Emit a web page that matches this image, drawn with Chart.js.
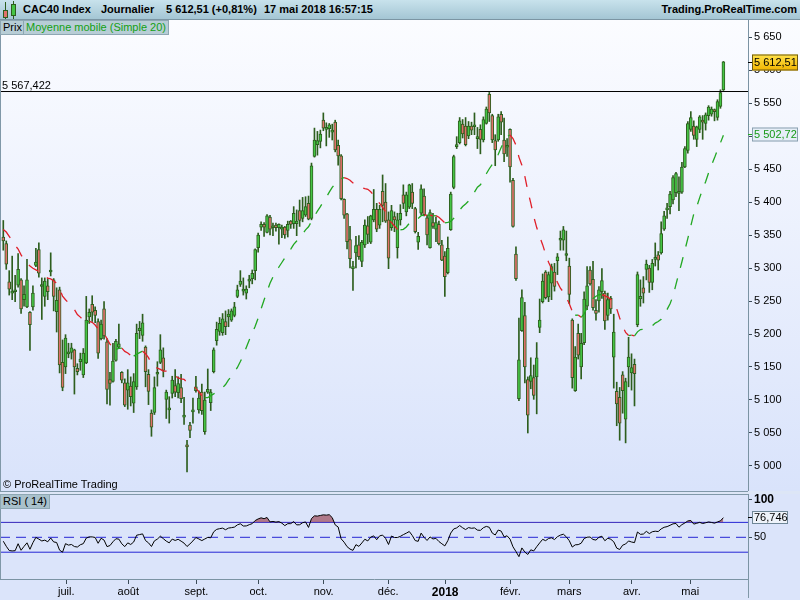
<!DOCTYPE html>
<html lang="fr">
<head>
<meta charset="utf-8">
<title>CAC40 Index - Journalier</title>
<script src="https://cdn.jsdelivr.net/npm/chart.js@4.4.1/dist/chart.umd.min.js"></script>
<style>
    html, body { margin: 0; padding: 0; }
    body {
        width: 800px; height: 600px; position: relative; overflow: hidden;
        background: #dde6f6;
        font-family: "Liberation Sans", Arial, sans-serif; font-size: 11px;
    }
    .abs { position: absolute; }
    #hdr {
        left: 0; top: 0; width: 800px; height: 20px; box-sizing: border-box;
        background: linear-gradient(#c8e2ec, #a4c6d4);
        border-bottom: 1px solid #7b95a3;
    }
    #hdr span { position: absolute; top: 3px; font-weight: bold; font-size: 11px; color: #000; white-space: nowrap; }
    #mainWrap { left: 0; top: 20px; width: 800px; height: 471px; background: linear-gradient(#fbfcff, #d9e3fb); }
    #rsiWrap { left: 0; top: 494px; width: 800px; height: 106px; background: #dbe4fa; }
    .leg {
        position: absolute; height: 13px; line-height: 13px; padding: 0 2px;
        background: #b7cdd6; border: 1px solid #8ea7b3; color: #000; white-space: nowrap;
    }
    .rule { position: absolute; background: #8098a8; }
</style>
</head>
<body>

<div id="hdr" class="abs">
    <div class="abs" style="left:5px;top:2px;width:1px;height:17px;background:#2d5e1e"></div>
    <div class="abs" style="left:3px;top:10px;width:3px;height:6px;background:#e0716b;border:1px solid #2d5e1e"></div>
    <div class="abs" style="left:13px;top:1px;width:1px;height:18px;background:#2d5e1e"></div>
    <div class="abs" style="left:11px;top:4px;width:3px;height:10px;background:#45c445;border:1px solid #2d5e1e"></div>
    <span style="left:23px">CAC40 Index</span>
    <span style="left:101px">Journalier</span>
    <span style="left:166px">5 612,51 (+0,81%)</span>
    <span style="left:264px">17 mai 2018 16:57:15</span>
    <span style="right:3px">Trading.ProRealTime.com</span>
</div>

<div id="mainWrap" class="abs"><canvas id="priceChart"></canvas></div>
<div class="rule" style="left:0;top:20px;width:1px;height:471px"></div>
<div class="rule" style="left:0;top:491px;width:748px;height:1px"></div>
<div class="leg" style="left:0;top:20px">Prix</div>
<div class="leg" style="left:23px;top:20px;color:#13a013">Moyenne mobile (Simple 20)</div>
<div class="abs" style="left:3px;top:478px;color:#000">© ProRealTime Trading</div>

<div id="rsiWrap" class="abs"><canvas id="rsiChart"></canvas></div>
<div class="leg" style="left:0;top:494px;background:#a9c1cc">RSI ( 14)</div>

<script>
    // CAC40 daily bars, 31 May 2017 -> 17 May 2018
    var opens = [
        5347,5337,5279,5262,5264,5274,5282,5252,5241,5233,5241,5304,5328,5272,5257,5273,5294,5282,5234,5267,
        5157,5150,5170,5172,5176,5148,5158,5138,5156,5226,5245,5236,5219,5193,5238,5188,5131,5128,5160,5180,
        5142,5126,5115,
        5121,5095,5120,5205,5198,5180,5139,5080,5081,5139,5157,5164,5101,5085,5110,5122,5111,5119,5074,5031,
        5062,5082,5114,5085,5112,5052,5112,5096,5143,5190,5204,5202,5219,5226,5221,5228,5257,5275,5265,5262,
        5280,5284,
        5296,5331,5362,5366,5354,5377,5361,5365,5361,5359,5362,5357,5371,5367,5367,5387,5375,5380,5398,5375,
        5469,5487,5492,5524,5510,5511,5506,5521,5486,5470,5404,5382,5343,5299,5323,5335,5310,5335,5364,5339,
        5373,5389,
        5365,5416,5400,5373,5361,5378,5331,5373,5411,5385,5392,5415,5390,5339,5383,5409,5376,5331,5369,5359,
        5366,5335,5318,5293,5358,5422,5484,5490,5518,5515,5500,5515,5514,5496,5510,5494,5519,5563,5531,5493,
        5494,5533,5494,
        5483,5510,5433,5321,5102,5205,5228,5131,5128,5134,5135,5210,5249,5294,5256,5277,5294,5311,5342,5342,
        5319,5303,5221,5114,5201,5150,5187,5242,5297,5283,5236,5250,5264,5262,5228,5254,5165,5113,5104,5138,
        5071,5150,
        5141,5154,5214,5253,5270,5298,5300,5278,5313,5320,5323,5359,5388,5393,5403,5414,5413,5415,5453,5478,
        5510,5515,5495,5510,5522,5519,5531,5533,5538,5528,5545,5570
    ];
    var highs = [
        5372,5341,5296,5318,5289,5322,5284,5273,5313,5234,5273,5330,5338,5285,5285,5284,5323,5284,5270,5271,
        5191,5199,5186,5186,5177,5155,5171,5178,5257,5238,5258,5241,5223,5221,5249,5193,5142,5186,5192,5215,
        5143,5132,5146,
        5135,5140,5215,5219,5230,5182,5146,5085,5135,5158,5199,5179,5115,5105,5136,5146,5135,5139,5104,5039,
        5066,5103,5136,5114,5124,5112,5147,5116,5179,5218,5225,5231,5235,5237,5238,5248,5274,5296,5285,5273,
        5289,5297,
        5329,5353,5370,5369,5381,5380,5368,5368,5367,5365,5363,5371,5372,5393,5388,5403,5407,5408,5409,5459,
        5512,5507,5509,5535,5520,5519,5518,5524,5494,5472,5405,5383,5363,5310,5348,5349,5342,5373,5378,5380,
        5419,5398,
        5395,5441,5428,5385,5395,5385,5383,5396,5426,5415,5427,5428,5392,5354,5426,5420,5380,5388,5383,5377,
        5371,5342,5325,5347,5415,5471,5499,5528,5525,5528,5522,5521,5535,5513,5517,5529,5544,5566,5533,5502,
        5533,5537,5527,
        5496,5511,5436,5332,5224,5267,5248,5135,5164,5153,5187,5253,5291,5296,5294,5306,5307,5322,5356,5363,
        5356,5315,5223,5181,5215,5201,5264,5302,5302,5310,5252,5272,5299,5265,5262,5257,5230,5127,5119,5143,
        5133,5195,
        5170,5162,5294,5282,5287,5312,5304,5313,5338,5325,5370,5386,5398,5416,5440,5445,5438,5460,5484,5522,
        5537,5523,5515,5531,5531,5535,5546,5544,5541,5555,5570,5613
    ];
    var lows = [
        5327,5298,5259,5252,5249,5271,5231,5242,5240,5175,5236,5302,5286,5222,5242,5252,5288,5235,5203,5141,
        5114,5140,5164,5162,5109,5138,5145,5134,5155,5216,5219,5217,5163,5191,5192,5094,5092,5127,5159,5178,
        5126,5090,5086,
        5091,5081,5116,5193,5189,5120,5093,5045,5078,5121,5155,5135,5072,5065,5103,5105,5103,5096,5063,4991,
        5043,5065,5112,5080,5078,5048,5110,5084,5141,5183,5198,5198,5199,5211,5219,5226,5255,5272,5259,5253,
        5270,5276,
        5282,5324,5357,5348,5353,5350,5349,5356,5336,5346,5345,5347,5360,5360,5349,5363,5370,5378,5373,5373,
        5468,5471,5482,5508,5485,5498,5494,5476,5456,5403,5375,5329,5300,5266,5300,5313,5302,5331,5337,5337,
        5370,5355,
        5360,5370,5369,5299,5357,5355,5315,5365,5390,5379,5390,5390,5353,5328,5381,5379,5335,5330,5360,5340,
        5335,5311,5257,5291,5357,5420,5481,5488,5497,5485,5496,5502,5502,5481,5473,5491,5518,5522,5490,5455,
        5492,5502,5461,
        5469,5430,5362,5281,5099,5204,5126,5050,5117,5101,5079,5202,5247,5253,5249,5252,5265,5290,5327,5327,
        5311,5246,5118,5113,5162,5132,5184,5237,5274,5236,5221,5233,5254,5207,5221,5231,5118,5061,5039,5080,
        5035,5120,
        5115,5091,5211,5242,5247,5282,5263,5267,5303,5297,5321,5357,5375,5382,5397,5408,5387,5413,5452,5474,
        5507,5495,5484,5505,5495,5509,5524,5530,5523,5524,5542,5569
    ];
    var closes = [
        5341,5306,5268,5264,5265,5298,5238,5260,5282,5214,5262,5309,5292,5273,5280,5264,5295,5257,5251,5153,
        5119,5194,5173,5179,5150,5143,5162,5171,5221,5233,5233,5228,5171,5215,5197,5116,5125,5159,5189,5185,
        5130,5092,5126,
        5105,5128,5201,5209,5217,5143,5113,5059,5119,5140,5176,5145,5112,5088,5130,5112,5125,5102,5077,5029,
        5054,5083,5120,5103,5084,5100,5116,5112,5176,5207,5216,5223,5211,5230,5235,5241,5267,5280,5267,5268,
        5281,5292,
        5328,5350,5366,5362,5379,5359,5364,5361,5366,5360,5350,5366,5366,5383,5371,5372,5387,5393,5374,5455,
        5494,5493,5503,5512,5511,5517,5507,5479,5470,5405,5380,5340,5314,5300,5334,5317,5339,5365,5351,5379,
        5389,5359,
        5389,5395,5371,5315,5387,5373,5373,5383,5398,5411,5426,5398,5355,5348,5420,5381,5350,5384,5363,5369,
        5337,5312,5287,5330,5412,5469,5485,5523,5503,5487,5515,5509,5514,5497,5495,5525,5541,5535,5494,5479,
        5529,5521,5473,
        5483,5453,5363,5284,5161,5255,5150,5077,5137,5107,5164,5221,5280,5255,5290,5302,5272,5317,5343,5358,
        5320,5260,5134,5165,5168,5186,5253,5273,5276,5240,5231,5267,5281,5220,5252,5238,5203,5094,5065,5114,
        5128,5165,
        5149,5140,5290,5257,5262,5306,5278,5307,5316,5312,5352,5379,5390,5412,5437,5443,5413,5453,5481,5519,
        5528,5501,5514,5529,5521,5532,5544,5541,5537,5552,5566,5612.51
    ];
    // closes before the first visible bar, only used to warm up the MA and the RSI
    var priorCloses = [5382,5398,5400,5406,5405,5417,5407,5365,5324,5326,5358,5344,5337,5347,5332,5316,5313,5331,5317];

    var priceTicks = [5000,5050,5100,5150,5200,5250,5300,5350,5400,5450,5500,5550,5600,5650];
    var monthTicks = [21.26, 42.19, 65.14, 86.06, 108.1, 129.9, 149.1, 171.1, 191.0, 212.1, 231.8];
    var monthLabels = ['juil.', 'août', 'sept.', 'oct.', 'nov.', 'déc.', '2018', 'févr.', 'mars', 'avr.', 'mai'];
    var levelLine = 5567.422;
    var maLast = 5502.72;
    var rsiLast = 76.746;

    var FONT = '"Liberation Sans", Arial, sans-serif';
    var EDGE = '#2d5e1e', BULL = '#45c445', BEAR = '#e0716b';
    var MA_UP = '#22a822', MA_DOWN = '#e0202a', BLUE = '#2626d4';
    var xMin = -1.11, xMax = 251.3;

    Chart.defaults.font.family = FONT;

    function fmtNum(v, dec) {
        var parts = v.toFixed(dec).split('.');
        var whole = parts[0].replace(/\B(?=(\d{3})+(?!\d))/g, ' ');
        return dec ? whole + ',' + parts[1] : whole;
    }

    // keep the plot area flush with the canvas edges
    function noPadding(s) {
        s.paddingTop = 0;
        s.paddingBottom = 0;
        s.paddingLeft = 0;
        s.paddingRight = 0;
    }

    // candles: bodies and wicks as floating bars
    var bodyData = closes.map(function(c, i) { return {x: i, y: [opens[i], c]}; });
    var wickData = closes.map(function(c, i) { return {x: i, y: [lows[i], highs[i]]}; });
    var bodyColors = closes.map(function(c, i) { return c >= opens[i] ? BULL : BEAR; });

    // simple moving average 20 and RSI 14 from the closes
    var allCloses = priorCloses.concat(closes);
    var maData = [];
    for (var i = 0; i < closes.length; i++) {
        var k = i + priorCloses.length, sum = 0;
        for (var j = k - 19; j <= k; j++) sum += allCloses[j];
        maData.push({x: i, y: sum / 20});
    }
    var rsiData = [];
    var avgGain = 0, avgLoss = 0;
    for (var n = 1; n < allCloses.length; n++) {
        var ch = allCloses[n] - allCloses[n - 1];
        var g = Math.max(ch, 0), l = Math.max(-ch, 0);
        if (n <= 14) {
            avgGain += g / 14;
            avgLoss += l / 14;
        } else {
            avgGain = (avgGain * 13 + g) / 14;
            avgLoss = (avgLoss * 13 + l) / 14;
        }
        var idx = n - priorCloses.length;
        if (idx >= 0) {
            rsiData.push({x: idx, y: avgLoss === 0 ? 100 : 100 - 100 / (1 + avgGain / avgLoss)});
        }
    }

    function tag(ctx, left, y, h, w, text, fill, stroke, textColor, tickColor) {
        ctx.strokeStyle = tickColor;
        ctx.lineWidth = 1;
        ctx.beginPath();
        ctx.moveTo(left, y);
        ctx.lineTo(left + 5, y);
        ctx.stroke();
        ctx.fillStyle = fill;
        ctx.fillRect(left + 4, y - h / 2, w, h);
        ctx.strokeStyle = stroke;
        ctx.strokeRect(left + 4.5, y - h / 2 + 0.5, w - 1, h - 1);
        ctx.fillStyle = textColor;
        ctx.textAlign = 'left';
        ctx.textBaseline = 'middle';
        ctx.fillText(text, left + 6, y + 0.5);
    }

    var priceLabels = {
        id: 'priceLabels',
        afterDraw: function(chart) {
            var ctx = chart.ctx, ys = chart.scales.y, a = chart.chartArea;
            ctx.save();
            ctx.font = '11px ' + FONT;
            ctx.fillStyle = '#000';
            ctx.textAlign = 'left';
            ctx.textBaseline = 'middle';
            ctx.fillText(fmtNum(levelLine, 3), 2, ys.getPixelForValue(levelLine) - 6);

            var last = closes[closes.length - 1];
            var yp = Math.round(ys.getPixelForValue(last)) + 0.5;
            var grad = ctx.createLinearGradient(0, yp - 8, 0, yp + 8);
            grad.addColorStop(0, '#ffe24a');
            grad.addColorStop(1, '#f2b400');
            tag(ctx, a.right, yp, 16, 46, fmtNum(last, 2), grad, '#6d5a10', '#000', '#000');

            var ym = Math.round(ys.getPixelForValue(maLast)) + 0.5;
            tag(ctx, a.right, ym, 14, 46, fmtNum(maLast, 2), '#e6eef8', '#8aa0b0', '#179917', MA_UP);
            ctx.restore();
        }
    };

    var rsiLabels = {
        id: 'rsiLabels',
        afterDraw: function(chart) {
            var ctx = chart.ctx, ys = chart.scales.y, a = chart.chartArea;
            ctx.save();
            ctx.strokeStyle = '#8098a8';
            ctx.lineWidth = 1;
            ctx.beginPath();
            ctx.moveTo(0, a.top + 0.5);
            ctx.lineTo(a.right, a.top + 0.5);
            ctx.moveTo(0.5, a.top);
            ctx.lineTo(0.5, a.bottom);
            ctx.moveTo(a.right + 0.5, a.bottom);
            ctx.lineTo(a.right + 0.5, chart.height - 2);
            ctx.stroke();
            ctx.font = '11px ' + FONT;
            var yr = Math.round(ys.getPixelForValue(rsiLast)) + 0.5;
            tag(ctx, a.right, yr, 13, 36, fmtNum(rsiLast, 3), '#eef3fa', '#6f8797', '#000', '#000');
            ctx.restore();
        }
    };

    new Chart(document.getElementById('priceChart'), {
        type: 'bar',
        data: {
            datasets: [
                {
                    type: 'line',
                    data: maData,
                    borderColor: MA_UP,
                    borderWidth: 1.3,
                    borderDash: [11, 11],
                    pointRadius: 0,
                    tension: 0,
                    segment: {
                        borderColor: function(c) { return c.p1.parsed.y >= c.p0.parsed.y ? MA_UP : MA_DOWN; }
                    }
                },
                {
                    type: 'line',
                    data: [{x: xMin, y: levelLine}, {x: xMax, y: levelLine}],
                    borderColor: '#000',
                    borderWidth: 1,
                    pointRadius: 0
                },
                {
                    data: bodyData,
                    backgroundColor: bodyColors,
                    borderColor: EDGE,
                    borderWidth: 1,
                    borderSkipped: false,
                    barThickness: 3,
                    minBarLength: 2,
                    grouped: false
                },
                {
                    data: wickData,
                    backgroundColor: EDGE,
                    borderWidth: 0,
                    barThickness: 1,
                    grouped: false
                }
            ]
        },
        options: {
            responsive: true,
            maintainAspectRatio: false,
            animation: false,
            events: [],
            layout: { padding: 0 },
            plugins: { legend: { display: false }, tooltip: { enabled: false } },
            scales: {
                x: { type: 'linear', min: xMin, max: xMax, offset: false, grid: { offset: false }, display: false },
                y: {
                    position: 'right',
                    min: 4962.1,
                    max: 5675.8,
                    afterBuildTicks: function(s) { s.ticks = priceTicks.map(function(v) { return {value: v}; }); },
                    afterFit: function(s) { s.width = 52; noPadding(s); },
                    grid: { drawOnChartArea: false, tickLength: 4, color: '#3c4c58' },
                    border: { color: '#7b93a3' },
                    ticks: {
                        color: '#000',
                        padding: 2,
                        font: { size: 11 },
                        callback: function(v) { return fmtNum(v, 0); }
                    }
                }
            }
        },
        plugins: [priceLabels]
    });

    new Chart(document.getElementById('rsiChart'), {
        type: 'line',
        data: {
            datasets: [
                {
                    data: rsiData,
                    borderColor: '#000',
                    borderWidth: 1,
                    pointRadius: 0,
                    tension: 0,
                    fill: { target: { value: 70 }, above: 'rgba(150,55,70,0.62)', below: 'rgba(0,0,0,0)' }
                },
                { data: [{x: xMin, y: 70}, {x: xMax, y: 70}], borderColor: BLUE, borderWidth: 1, pointRadius: 0 },
                { data: [{x: xMin, y: 50}, {x: xMax, y: 50}], borderColor: BLUE, borderWidth: 1, borderDash: [10, 6], pointRadius: 0 },
                { data: [{x: xMin, y: 30}, {x: xMax, y: 30}], borderColor: BLUE, borderWidth: 1, pointRadius: 0 }
            ]
        },
        options: {
            responsive: true,
            maintainAspectRatio: false,
            animation: false,
            events: [],
            layout: { padding: 0 },
            plugins: { legend: { display: false }, tooltip: { enabled: false } },
            scales: {
                x: {
                    type: 'linear',
                    min: xMin,
                    max: xMax,
                    offset: false,
                    afterBuildTicks: function(s) { s.ticks = monthTicks.map(function(v) { return {value: v}; }); },
                    afterFit: function(s) { s.height = 21; noPadding(s); },
                    grid: { drawOnChartArea: false, tickLength: 5, color: '#3c4c58' },
                    border: { color: '#7b93a3' },
                    ticks: {
                        autoSkip: false,
                        maxRotation: 0,
                        padding: 1,
                        color: '#000',
                        font: function(c) {
                            return monthLabels[c.index] === '2018' ? { size: 12, weight: 'bold' } : { size: 11 };
                        },
                        callback: function(v, i) { return monthLabels[i]; }
                    }
                },
                y: {
                    position: 'right',
                    min: -5.9,
                    max: 108.04,
                    afterBuildTicks: function(s) { s.ticks = [{value: 50}, {value: 100}]; },
                    afterFit: function(s) { s.width = 52; noPadding(s); },
                    grid: { drawOnChartArea: false, tickLength: 4, color: '#3c4c58' },
                    border: { color: '#7b93a3' },
                    ticks: {
                        color: '#000',
                        padding: 2,
                        font: function(c) {
                            return c.tick && c.tick.value === 100 ? { size: 12, weight: 'bold' } : { size: 11 };
                        }
                    }
                }
            }
        },
        plugins: [rsiLabels]
    });
</script>
</body>
</html>
